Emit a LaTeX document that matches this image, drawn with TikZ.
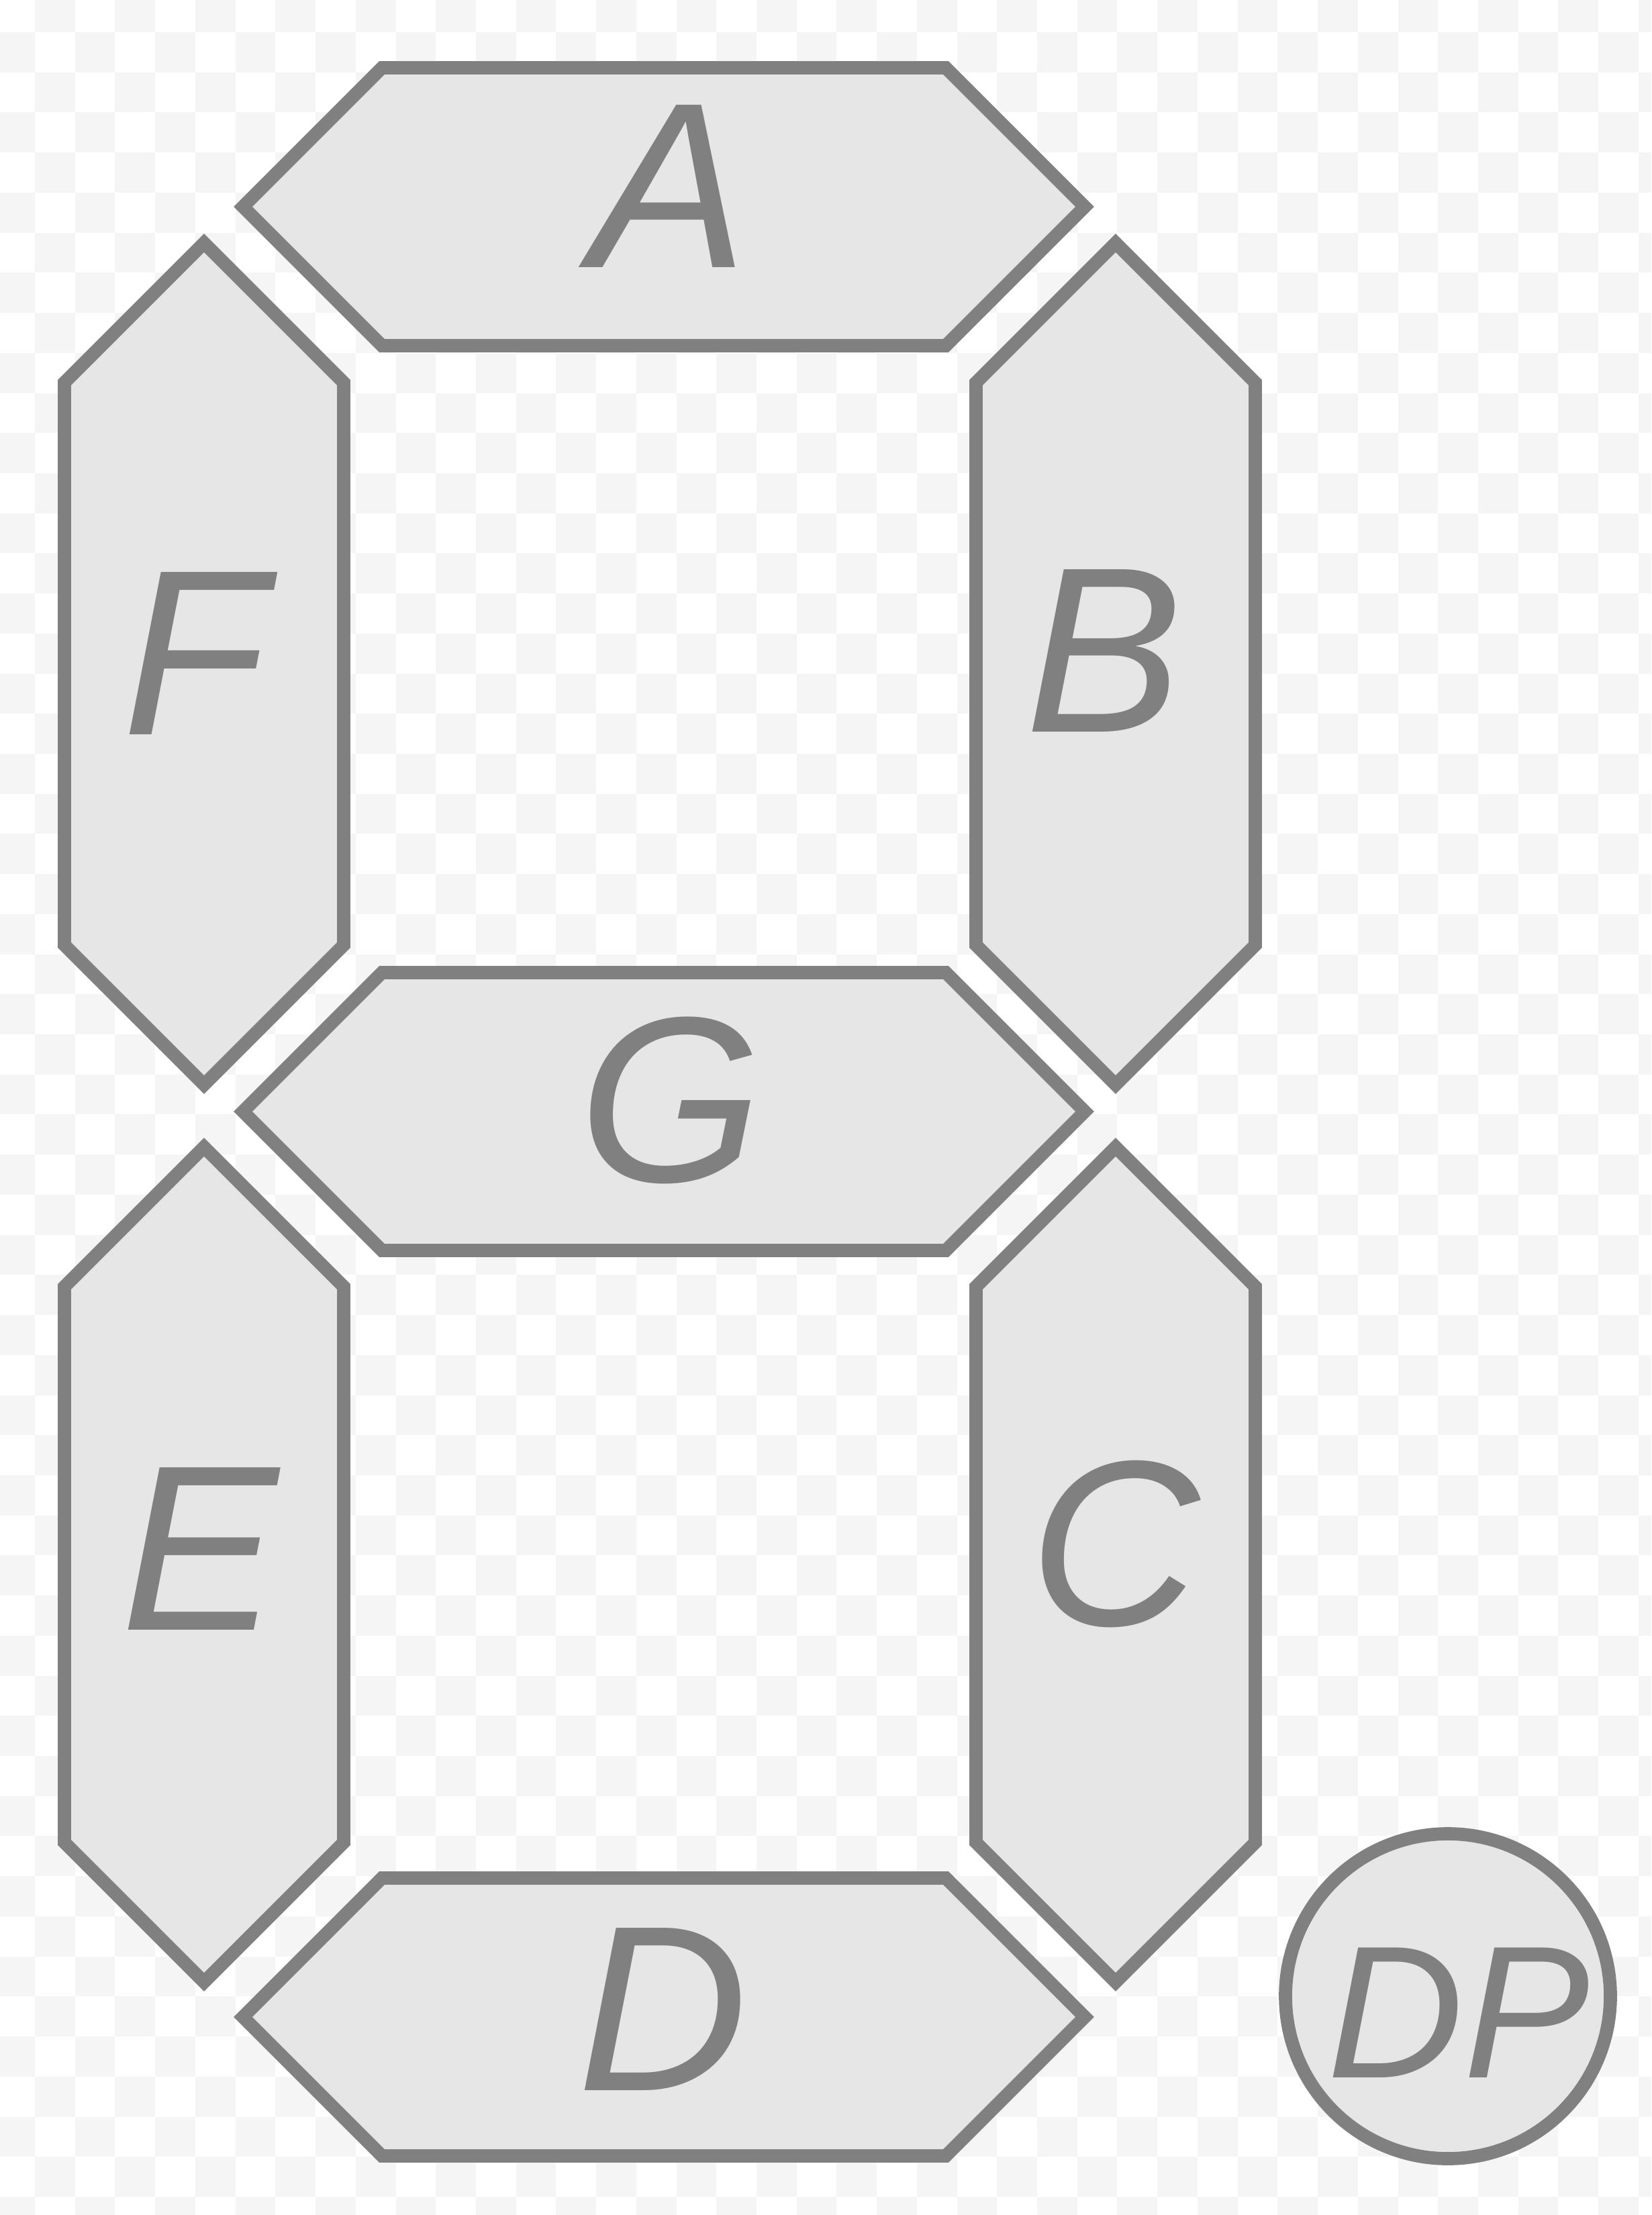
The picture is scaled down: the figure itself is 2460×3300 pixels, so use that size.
\documentclass[tikz,border=0pt]{standalone}
\usepackage{fontspec}
\setmainfont{Liberation Sans}
\usepackage{xcolor}
\usepackage{tikz}
\usetikzlibrary{positioning,calc}
\definecolor{segline}{RGB}{128,128,128}
\definecolor{segfill}{RGB}{230,230,230}
\definecolor{checkcolor}{RGB}{245,245,245}

\begin{document}
\begin{tikzpicture}[
    x=0.01cm, y=-0.01cm,
    segment/.style={draw=segline, fill=segfill, line width=5.6pt, line join=miter},
    seglabel/.style={text=segline, inner sep=0pt, font=\fontsize{100}{100}\selectfont\itshape},
    dplabel/.style={text=segline, inner sep=0pt, font=\fontsize{80}{80}\selectfont\itshape},
    checker/.style={fill=checkcolor}
]

% Canvas
\useasboundingbox (0,0) rectangle (2460,3300);
\fill[white] (0,0) rectangle (2460,3300);
\begin{scope}
\clip (0,0) rectangle (2460,3300);
\foreach \i in {0,...,41} {
  \foreach \j in {0,...,56} {
    \pgfmathtruncatemacro\chk{mod(\i+\j,2)}
    \ifnum\chk=1
      \fill[checker] ({-7.7+59.72*\i},{-11.7+59.72*\j}) rectangle ++(59.72,59.72);
    \fi
  }
}
\end{scope}

% Segment A
\draw[segment] (362,308) -- (569,101) -- (1409,101) -- (1616,308) -- (1409,515) -- (569,515) -- cycle;
% Segment G
\draw[segment] (362,1656) -- (569,1449) -- (1409,1449) -- (1616,1656) -- (1409,1863) -- (569,1863) -- cycle;
% Segment D
\draw[segment] (362,3005) -- (569,2798) -- (1409,2798) -- (1616,3005) -- (1409,3212) -- (569,3212) -- cycle;
% Segment F
\draw[segment] (304,362) -- (512,570) -- (512,1408) -- (304,1616) -- (96,1408) -- (96,570) -- cycle;
% Segment B
\draw[segment] (1662,362) -- (1870,570) -- (1870,1408) -- (1662,1616) -- (1454,1408) -- (1454,570) -- cycle;
% Segment E
\draw[segment] (304,1709) -- (512,1917) -- (512,2745) -- (304,2953) -- (96,2745) -- (96,1917) -- cycle;
% Segment C
\draw[segment] (1662,1709) -- (1870,1917) -- (1870,2745) -- (1662,2953) -- (1454,2745) -- (1454,1917) -- cycle;
% Decimal point
\draw[segment] (2157,2974) circle (242);

% Labels
\node[seglabel] (lblA) at (997,278) {A};
\node[seglabel] (lblB) at (1645,970) {B};
\node[seglabel] (lblC) at (1660,2300) {C};
\node[seglabel] (lblD) at (987,2993) {D};
\node[seglabel] (lblE) at (298,2307) {E};
\node[seglabel] (lblF) at (290,974) {F};
\node[seglabel] (lblG) at (999,1639) {G};
\node[dplabel] (lblDP) at (2173,2999) {DP};

\end{tikzpicture}
\end{document}
